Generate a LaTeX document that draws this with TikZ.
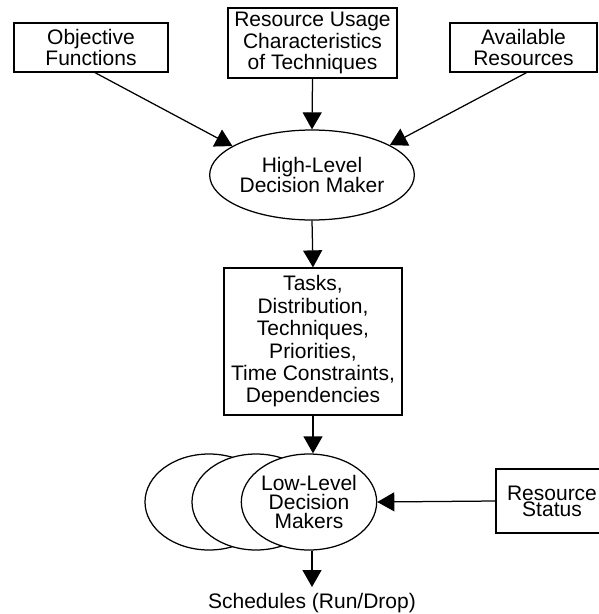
\documentclass[tikz,border=0pt]{standalone}
\usepackage{fontspec}
\setmainfont{Liberation Sans}
\usetikzlibrary{shapes.geometric,arrows.meta}
\begin{document}
\begin{tikzpicture}[x=1pt,y=-1pt,
  box/.style={draw, line width=1.25pt, fill=white, align=center, inner sep=0pt},
  oval/.style={ellipse, draw, line width=1.25pt, fill=white, align=center, inner sep=0pt},
  arr/.style={-{Triangle[length=17pt,width=19pt]}, line width=1.25pt},
  fnt/.style={font={\fontsize{21}{#1}\selectfont}}]
\useasboundingbox (0,0) rectangle (598,614);
\node[box, fnt=20.5, minimum width=154pt, minimum height=49pt] (obj) at (91,47.5) {Objective\\Functions};
\node[box, fnt=21.5, minimum width=169pt, minimum height=70pt] (res) at (312.5,43) {Resource Usage\\Characteristics\\of Techniques};
\node[box, fnt=20.5, minimum width=147pt, minimum height=49pt] (av) at (523.5,47.5) {Available\\Resources};
\node[oval, fnt=19, minimum width=164pt, minimum height=90pt] (hl) at (312,175) {High-Level\\Decision Maker};
\node[box, fnt=22.4, minimum width=178pt, minimum height=147pt] (tasks) at (313,341.5) {Tasks,\\Distribution,\\Techniques,\\Priorities,\\Time Constraints,\\Dependencies};
\node[oval, minimum width=128pt, minimum height=96pt] (ll1) at (209,502) {};
\node[oval, minimum width=128pt, minimum height=96pt] (ll2) at (256,502) {};
\node[oval, fnt=19, minimum width=128pt, minimum height=96pt] (ll3) at (309,502) {Low-Level\\Decision\\Makers};
\node[box, fnt=16, minimum width=112pt, minimum height=64pt] (rs) at (552,501) {Resource\\Status};
\node[fnt=22, inner xsep=0pt, inner ysep=6pt, anchor=north] (sch) at (312,587) {Schedules (Run/Drop)};
\draw[arr] ([xshift=4pt]obj.south) -- (hl.160);
\draw[arr] ([xshift=3pt]av.south) -- (hl.21);
\draw[arr] (res.south) -- (hl.north);
\draw[arr] (hl.south) -- (tasks.north);
\draw[arr] (tasks.south) -- (tasks.south |- ll3.north);
\draw[arr] (rs.west) -- (ll3.east);
\draw[arr] (ll3.south -| sch.north) -- (sch.north);
\end{tikzpicture}
\end{document}
